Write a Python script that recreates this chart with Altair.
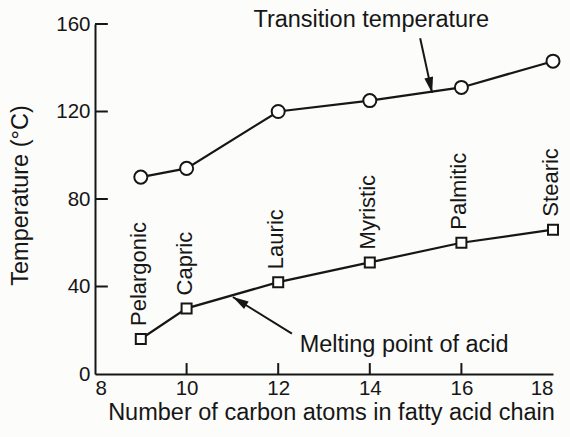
import altair as alt
import pandas as pd

# Fatty acids: chain length, name, melting point and transition temperature (°C)
carbons = [9, 10, 12, 14, 16, 18]
acids = ["Pelargonic", "Capric", "Lauric", "Myristic", "Palmitic", "Stearic"]
melting = [16, 30, 42, 51, 60, 66]
transition = [90, 94, 120, 125, 131, 143]

x_ticks = [8, 10, 12, 14, 16, 18]
y_ticks = [0, 40, 80, 120, 160]

# Callout texts and their arrows (data coordinates)
callout_text = ["Transition temperature", "Melting point of acid"]
callout_x = [14.03, 14.75]
callout_y = [158.5, 10.0]
arrow_x = [15.1, 12.3]
arrow_y = [153.5, 18.5]
arrow_tip_x = [15.36, 11.01]
arrow_tip_y = [128.5, 35.2]
arrow_angle = [167.7, 301.4]

FONT = "Liberation Sans"
INK = "#161616"
W, H = 458, 350

df = pd.DataFrame({"carbons": carbons, "acid": acids,
                   "melting": melting, "transition": transition})
callouts = pd.DataFrame({"text": callout_text, "x": callout_x, "y": callout_y})
arrows = pd.DataFrame({"x": arrow_x, "y": arrow_y, "tx": arrow_tip_x,
                       "ty": arrow_tip_y, "angle": arrow_angle})

xs = alt.Scale(domain=[8, 18], nice=False, zero=False)
ys = alt.Scale(domain=[0, 160], nice=False)

x_axis = alt.Axis(values=x_ticks, format="d", ticks=False, grid=False,
                  domainColor=INK, domainWidth=2, labelPadding=4,
                  labelFontSize=20.5, labelFont=FONT, labelColor=INK,
                  title="Number of carbon atoms in fatty acid chain",
                  titleFont=FONT, titleFontSize=23.5, titleFontWeight="normal",
                  titleColor=INK, titleX=236, titleY=26, titleBaseline="top")
y_axis = alt.Axis(values=y_ticks, ticks=False, grid=False,
                  domainColor=INK, domainWidth=2, labelPadding=5,
                  labelFontSize=20.5, labelFont=FONT, labelColor=INK,
                  title="Temperature (°C)", titleFont=FONT, titleFontSize=23.5,
                  titleFontWeight="normal", titleColor=INK,
                  titleX=-75, titleY=171, titleAlign="center",
                  titleBaseline="middle", titleAngle=270)

base = alt.Chart(df)

# Axes carried by an invisible layer
frame = base.mark_point(opacity=0).encode(
    x=alt.X("carbons:Q", scale=xs, axis=x_axis),
    y=alt.Y("melting:Q", scale=ys, axis=y_axis),
)

# Tick marks pointing into the plot (lengths in data units: ~13 px and ~11 px)
tick_rows = ([{"x": 8.0, "x2": 8.28, "y": float(t), "y2": float(t)}
              for t in y_ticks if t > 0] +
             [{"x": float(t), "x2": float(t), "y": 0.0, "y2": 5.0}
              for t in x_ticks if 8 < t < 18])
tick_df = pd.DataFrame(tick_rows)
inner_ticks = alt.Chart(tick_df).mark_rule(color=INK, strokeWidth=2).encode(
    x=alt.X("x:Q", scale=xs), x2="x2:Q",
    y=alt.Y("y:Q", scale=ys), y2="y2:Q")

trans_line = base.mark_line(color=INK, strokeWidth=2.2).encode(
    x=alt.X("carbons:Q", scale=xs), y=alt.Y("transition:Q", scale=ys))
trans_pts = base.mark_point(shape="circle", size=170, fill="white",
                            stroke=INK, strokeWidth=2, opacity=1,
                            fillOpacity=1).encode(
    x=alt.X("carbons:Q", scale=xs), y=alt.Y("transition:Q", scale=ys))

melt_line = base.mark_line(color=INK, strokeWidth=2.2).encode(
    x=alt.X("carbons:Q", scale=xs), y=alt.Y("melting:Q", scale=ys))
melt_pts = base.mark_point(shape="square", size=100, fill="white",
                           stroke=INK, strokeWidth=2, opacity=1,
                           fillOpacity=1).encode(
    x=alt.X("carbons:Q", scale=xs), y=alt.Y("melting:Q", scale=ys))

# Acid names written upward above each melting point
names = base.mark_text(angle=270, align="left", baseline="middle",
                       font=FONT, fontSize=22, color=INK, dx=13, dy=-2).encode(
    x=alt.X("carbons:Q", scale=xs), y=alt.Y("melting:Q", scale=ys),
    text="acid:N")

callout_labels = alt.Chart(callouts).mark_text(
    align="center", baseline="alphabetic", font=FONT, fontSize=23.5,
    color=INK).encode(
    x=alt.X("x:Q", scale=xs), y=alt.Y("y:Q", scale=ys), text="text:N")

arrow_shafts = alt.Chart(arrows).mark_rule(color=INK, strokeWidth=2).encode(
    x=alt.X("x:Q", scale=xs), y=alt.Y("y:Q", scale=ys),
    x2="tx:Q", y2="ty:Q")
arrow_heads = alt.Chart(arrows).mark_point(
    shape="M0,0 L-0.28,1 L0.28,1 Z", size=1000, filled=True, color=INK,
    opacity=1).encode(
    x=alt.X("tx:Q", scale=xs), y=alt.Y("ty:Q", scale=ys),
    angle=alt.Angle("angle:Q", scale=None))

chart = alt.layer(
    frame, inner_ticks, trans_line, trans_pts, melt_line, melt_pts,
    names, callout_labels, arrow_shafts, arrow_heads,
).properties(
    width=W, height=H,
    autosize=alt.AutoSizeParams(type="none"),
    padding={"left": 95, "top": 24, "right": 17, "bottom": 63},
    background="#fcfcfa",
).configure_view(stroke=None)

chart.save("out.html", embed_options={"renderer": "svg", "actions": False})
